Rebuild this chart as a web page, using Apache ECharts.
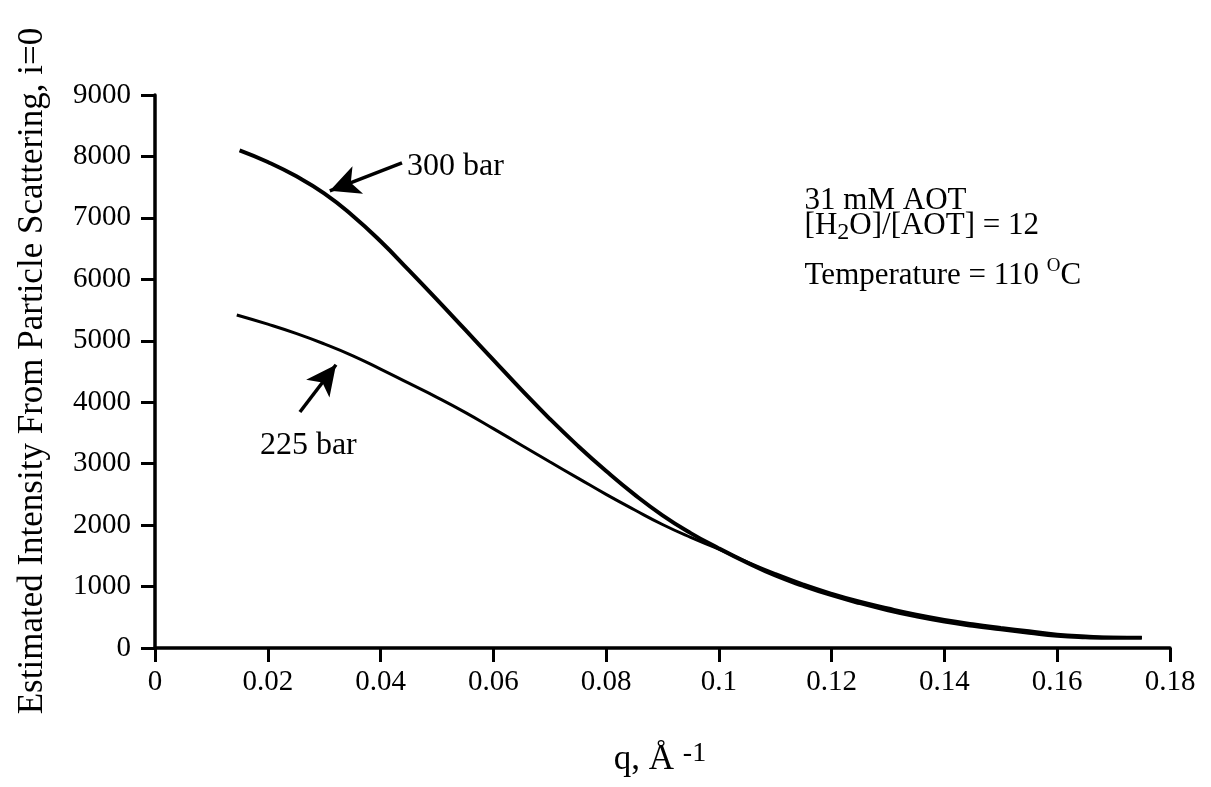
<!DOCTYPE html>
<html>
<head>
<meta charset="utf-8">
<script src="https://cdn.jsdelivr.net/npm/echarts@6/dist/echarts.min.js"></script>
<style>
html,body{margin:0;padding:0;background:#fff;}
#chart{width:1211px;height:787px;}
</style>
</head>
<body>
<div id="chart"></div>
<script>
// ---- data ----
var xTickValues = [0, 0.02, 0.04, 0.06, 0.08, 0.1, 0.12, 0.14, 0.16, 0.18];
var xTickLabels = ['0', '0.02', '0.04', '0.06', '0.08', '0.1', '0.12', '0.14', '0.16', '0.18'];
var yTickLabels = ['0', '1000', '2000', '3000', '4000', '5000', '6000', '7000', '8000', '9000'];

var q300 = [0.015,0.02,0.025,0.03,0.035,0.04,0.045,0.05,0.055,0.06,0.065,0.07,0.075,0.08,0.085,0.09,0.095,0.1,0.105,0.11,0.115,0.12,0.125,0.13,0.135,0.14,0.145,0.15,0.155,0.16,0.165,0.17,0.175];
var i300 = [8100,7910,7680,7400,7040,6620,6150,5670,5180,4690,4200,3730,3290,2880,2500,2160,1870,1620,1390,1180,1010,860,730,615,515,430,362,305,250,200,175,165,165];

var q225 = [0.0145,0.02,0.025,0.03,0.035,0.04,0.045,0.05,0.055,0.06,0.065,0.07,0.075,0.08,0.085,0.09,0.095,0.1,0.105,0.11,0.115,0.12,0.125,0.13,0.135,0.14,0.145,0.15,0.155,0.16,0.165,0.17,0.175];
var i225 = [5420,5270,5120,4950,4760,4540,4310,4080,3835,3570,3300,3030,2765,2500,2250,2010,1800,1610,1400,1210,1040,890,760,650,550,465,395,335,280,225,195,175,170];

// annotation anchors (data units)
var arrow300 = [[0.0438, 7894], [0.0310, 7440]];
var arrow225 = [[0.0257, 3841], [0.0321, 4610]];
var label300Pos = [0.0447, 7829];
var label225Pos = [0.0186, 3288];
var infoLine1 = [0.1152, 7275];
var infoLine2 = [0.1152, 6868];
var infoLine3 = [0.1152, 6055];

function pairs(xs, ys){ var out=[]; for (var k=0;k<xs.length;k++) out.push([xs[k], ys[k]]); return out; }

var FONT = '"Liberation Serif", "Times New Roman", serif';
var chart = echarts.init(document.getElementById('chart'), null, {renderer:'canvas'});

var option = {
  backgroundColor: '#ffffff',
  animation: false,
  grid: {left:155, right:41, top:95, bottom:139, containLabel:false},
  xAxis: {
    type:'value', min:0, max:0.18, interval:0.02,
    axisLine:{show:true, onZero:false, lineStyle:{color:'#000', width:3.5}},
    axisTick:{show:true, inside:false, length:14, lineStyle:{color:'#000', width:3}},
    splitLine:{show:false},
    axisLabel:{color:'#000', fontFamily:FONT, fontSize:29, margin:20,
      formatter:function(v){ var k = xTickValues.findIndex(function(t){return Math.abs(t-v)<1e-9;}); return k>=0 ? xTickLabels[k] : ''; }}
  },
  yAxis: {
    type:'value', min:0, max:9000, interval:1000,
    axisLine:{show:true, onZero:false, lineStyle:{color:'#000', width:3.5}},
    axisTick:{show:true, inside:false, length:14, lineStyle:{color:'#000', width:3}},
    splitLine:{show:false},
    axisLabel:{color:'#000', fontFamily:FONT, fontSize:29, margin:24,
      formatter:function(v){ return yTickLabels[Math.round(v/1000)]; }}
  },
  series: [
    {
      name:'300 bar', type:'line', data:pairs(q300, i300), smooth:0.5, showSymbol:false,
      lineStyle:{color:'#000', width:4},
      markLine:{silent:true, symbol:['none','arrow'], symbolSize:[22,30],
        lineStyle:{color:'#000', width:3.5, type:'solid'}, label:{show:false},
        data:[[{coord:arrow300[0]},{coord:arrow300[1]}]]}
    },
    {
      name:'225 bar', type:'line', data:pairs(q225, i225), smooth:0.5, showSymbol:false,
      lineStyle:{color:'#000', width:3},
      markLine:{silent:true, symbol:['none','arrow'], symbolSize:[22,30],
        lineStyle:{color:'#000', width:3.5, type:'solid'}, label:{show:false},
        data:[[{coord:arrow225[0]},{coord:arrow225[1]}]]}
    }
  ]
};
chart.setOption(option);

function px(p){ return chart.convertToPixel({gridIndex:0}, p); }
var p300 = px(label300Pos), p225 = px(label225Pos);
var l1 = px(infoLine1), l2 = px(infoLine2), l3 = px(infoLine3);

chart.setOption({
  graphic: [
    {type:'text', x:33, y:371, rotation:Math.PI/2,
      style:{text:'Estimated Intensity From Particle Scattering, i=0', fill:'#000', font:'35px '+FONT, textAlign:'center', textVerticalAlign:'middle'}},
    {type:'text', x:660, y:760,
      style:{text:'{b|q, Å }{s|-1}', textAlign:'center', textVerticalAlign:'middle',
        rich:{b:{fontFamily:FONT, fontSize:35, fill:'#000', lineHeight:40, verticalAlign:'middle'},
              s:{fontFamily:FONT, fontSize:28, fill:'#000', lineHeight:26, verticalAlign:'top'}}}},
    {type:'text', x:p300[0], y:p300[1],
      style:{text:'300 bar', fill:'#000', font:'32px '+FONT, textAlign:'left', textVerticalAlign:'middle'}},
    {type:'text', x:p225[0], y:p225[1],
      style:{text:'225 bar', fill:'#000', font:'32px '+FONT, textAlign:'left', textVerticalAlign:'middle'}},
    {type:'text', x:l1[0], y:l1[1],
      style:{text:'31 mM AOT', fill:'#000', font:'31px '+FONT, textAlign:'left', textVerticalAlign:'middle'}},
    {type:'text', x:l2[0], y:l2[1],
      style:{text:'{n|[H}{sub|2}{n|O]/[AOT] = 12}', textAlign:'left', textVerticalAlign:'middle',
        rich:{n:{fontFamily:FONT, fontSize:31, fill:'#000', lineHeight:38, verticalAlign:'middle'},
              sub:{fontFamily:FONT, fontSize:24, fill:'#000', lineHeight:22, verticalAlign:'bottom'}}}},
    {type:'text', x:l3[0], y:l3[1],
      style:{text:'{n|Temperature = 110 }{sup|O}{n|C}', textAlign:'left', textVerticalAlign:'middle',
        rich:{n:{fontFamily:FONT, fontSize:31, fill:'#000', lineHeight:38, verticalAlign:'middle'},
              sup:{fontFamily:FONT, fontSize:19, fill:'#000', lineHeight:22, verticalAlign:'top'}}}}
  ]
});
</script>
</body>
</html>
